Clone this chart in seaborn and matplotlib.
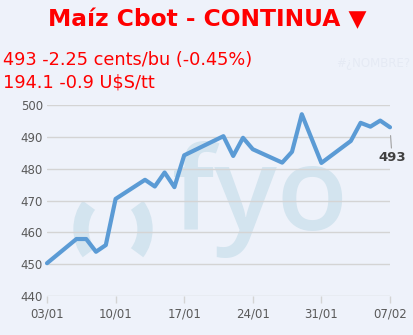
import matplotlib
matplotlib.use("Agg")
import matplotlib.pyplot as plt
import matplotlib.dates as mdates
from matplotlib.patches import Arc
import pandas as pd
import seaborn as sns

# ---- data ----
dates = ["2025-01-03", "2025-01-06", "2025-01-07", "2025-01-08", "2025-01-09",
         "2025-01-10", "2025-01-13", "2025-01-14", "2025-01-15", "2025-01-16",
         "2025-01-17", "2025-01-21", "2025-01-22", "2025-01-23", "2025-01-24",
         "2025-01-27", "2025-01-28", "2025-01-29", "2025-01-31", "2025-02-03",
         "2025-02-04", "2025-02-05", "2025-02-06", "2025-02-07"]
prices = [450.3, 457.9, 457.9, 453.9, 456.0,
          470.5, 476.5, 474.4, 478.8, 474.2,
          484.2, 490.2, 484.0, 489.7, 486.1,
          481.9, 485.3, 497.1, 481.8, 488.7,
          494.4, 493.2, 495.1, 493.0]
tick_dates = ["2025-01-03", "2025-01-10", "2025-01-17", "2025-01-24",
              "2025-01-31", "2025-02-07"]
y_ticks = [440, 450, 460, 470, 480, 490, 500]

title = "Maíz Cbot - CONTINUA ▼"
line1 = "493 -2.25 cents/bu (-0.45%)"
line2 = "194.1 -0.9 U$S/tt"
last_label = "493"

df = pd.DataFrame({"date": pd.to_datetime(dates), "price": prices})

BG = "#EEF2FA"
sns.set_theme(style="white")
plt.rcParams["font.family"] = ["DejaVu Sans"]

W, H = 414, 335
fig = plt.figure(figsize=(W / 100, H / 100), dpi=100, facecolor=BG)

# overlay axes in pixel coordinates (behind chart) for watermark
bg = fig.add_axes([0, 0, 1, 1], zorder=0)
bg.set_xlim(0, W)
bg.set_ylim(H, 0)
bg.axis("off")
bg.set_facecolor(BG)
WM = "#D3E4EF"
bg.add_patch(Arc((111, 229), 60, 70, theta1=133, theta2=227, lw=11, color=WM))
bg.add_patch(Arc((115, 229), 60, 70, theta1=-47, theta2=47, lw=11, color=WM))
bg.text(172, 230, "fyo", fontsize=84, color=WM, ha="left", va="baseline",
        family="Open Sans", fontweight="semibold")

# main chart
ax = fig.add_axes([47 / W, 1 - 296 / H, (390 - 47) / W, (296 - 105) / H], zorder=1)
ax.patch.set_alpha(0)
sns.lineplot(data=df, x="date", y="price", ax=ax, color="#5B9BD5", lw=3,
             clip_on=False, zorder=3)
ax.set_xlim(pd.Timestamp(dates[0]), pd.Timestamp(dates[-1]))
ax.set_ylim(y_ticks[0], y_ticks[-1])
ax.set_yticks(y_ticks)
ax.set_xticks(pd.to_datetime(tick_dates))
ax.xaxis.set_major_formatter(mdates.DateFormatter("%d/%m"))
ax.set_xlabel("")
ax.set_ylabel("")
for s in ax.spines.values():
    s.set_visible(False)
ax.grid(axis="y", color="#D4D4D4", lw=1)
ax.grid(axis="x", visible=False)
ax.tick_params(axis="y", length=0, pad=3, labelsize=8.5, labelcolor="#595959")
ax.tick_params(axis="x", length=5, width=1, color="#D4D4D4", pad=3,
               labelsize=8.5, labelcolor="#595959", bottom=True)

# last value label with connector
last_x = df["date"].iloc[-1]
last_y = df["price"].iloc[-1]
ax.annotate(last_label, xy=(last_x, last_y), xytext=(1.5, -22),
            textcoords="offset points", ha="center", va="center",
            fontsize=9.5, fontweight="bold", color="#404040",
            arrowprops=dict(arrowstyle="-", color="#A0A0A0", lw=0.8,
                            shrinkA=0, shrinkB=6), annotation_clip=False)

# header texts
fig.text(0.5, 1 - 20 / H, title, ha="center", va="center", fontsize=16.8,
         fontweight="bold", color="#FF0000")
fig.text(3 / W, 1 - 60 / H, line1, ha="left", va="center", fontsize=12.8,
         color="#FF0000")
fig.text(3 / W, 1 - 83 / H, line2, ha="left", va="center", fontsize=12.8,
         color="#FF0000")
fig.text(410 / W, 1 - 63 / H, "#¿NOMBRE?", ha="right", va="center",
         fontsize=8.5, color="#E5EAF4")

fig.savefig("out.png", dpi=100, facecolor=BG)
